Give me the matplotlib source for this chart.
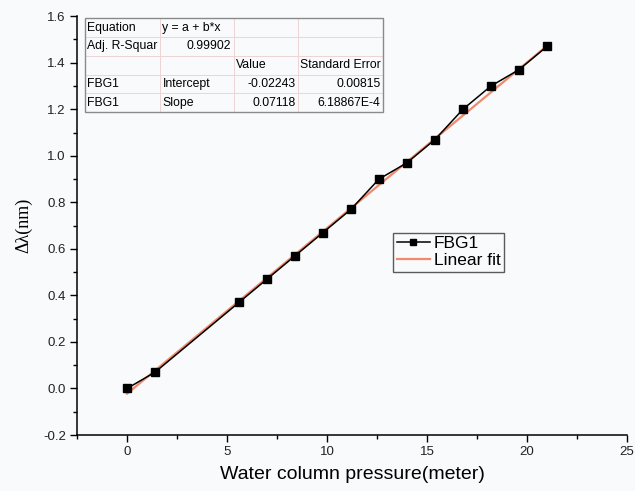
import matplotlib
matplotlib.use("Agg")
import matplotlib.pyplot as plt
import numpy as np
from matplotlib.patches import Rectangle

plt.rcParams["font.family"] = ["Liberation Sans", "DejaVu Sans"]

# 水柱压力 (m) 与 FBG1 波长漂移 (nm)
pressure = [0.0, 1.4, 5.6, 7.0, 8.4, 9.8, 11.2, 12.6, 14.0, 15.4, 16.8, 18.2, 19.6, 21.0]
shift = [0.00, 0.07, 0.37, 0.47, 0.57, 0.67, 0.77, 0.90, 0.97, 1.07, 1.20, 1.30, 1.37, 1.47]

# 线性拟合结果
intercept = -0.02243
slope = 0.07118
intercept_err = "0.00815"
slope_err = "6.18867E-4"
adj_r2 = "0.99902"

x_ticks = [0, 5, 10, 15, 20, 25]
y_ticks = [-0.2, 0.0, 0.2, 0.4, 0.6, 0.8, 1.0, 1.2, 1.4, 1.6]

bg = "#f9fafc"
fig = plt.figure(figsize=(6.35, 4.91), dpi=100, facecolor=bg)
ax = fig.add_axes([0.1213, 0.114, 0.866, 0.853], facecolor=bg)

fit_x = np.array([pressure[0], pressure[-1]])
ax.plot(pressure, shift, color="black", lw=1.1, marker="s", ms=5.8,
        label="FBG1", zorder=3)
ax.plot(fit_x, intercept + slope * fit_x, color="#f08a6c", lw=1.6,
        label="Linear fit", zorder=2)

ax.set_xlim(-2.5, 25)
ax.set_ylim(-0.2, 1.6)
ax.set_xticks(x_ticks)
ax.set_yticks(y_ticks)
ax.set_xticks(np.arange(-2.5, 25.1, 2.5), minor=True)
ax.set_yticks(np.arange(-0.2, 1.61, 0.1), minor=True)
ax.yaxis.set_major_formatter(matplotlib.ticker.FormatStrFormatter("%.1f"))
ax.tick_params(which="major", direction="out", length=5, width=1,
               labelsize=9.5, labelcolor="#222222", pad=3)
ax.tick_params(which="minor", direction="out", length=3, width=1)
for s in ["top", "right"]:
    ax.spines[s].set_visible(False)
for s in ["left", "bottom"]:
    ax.spines[s].set_linewidth(1.1)

ax.set_xlabel("Water column pressure(meter)", fontsize=14, labelpad=6)
ax.set_ylabel("Δλ(nm)", fontsize=13, family=["Liberation Serif", "DejaVu Serif"],
              labelpad=8)

leg = ax.legend(loc="upper left", bbox_to_anchor=(0.575, 0.483), fontsize=12.5,
                frameon=True, fancybox=False, handlelength=1.9,
                handletextpad=0.25, borderpad=0.2, labelspacing=0.1,
                borderaxespad=0, markerscale=0.8)
leg.get_frame().set_edgecolor("#333333")
leg.get_frame().set_linewidth(1.0)
leg.get_frame().set_facecolor(bg)

# 拟合参数表
cells = [
    ["Equation", "y = a + b*x", "", ""],
    ["Adj. R-Squar", adj_r2, "", ""],
    ["", "", "Value", "Standard Error"],
    ["FBG1", "Intercept", f"{intercept:.5f}", intercept_err],
    ["FBG1", "Slope", f"{slope:.5f}", slope_err],
]
col_w = [75, 73, 64, 85]
col_w = [w / sum(col_w) for w in col_w]
tx0, ty0, tw, th = 0.0145, 0.771, 0.542, 0.224
tbl = ax.table(cellText=cells, colWidths=col_w, bbox=[tx0, ty0, tw, th],
               cellLoc="left")
tbl.auto_set_font_size(False)
tbl.set_fontsize(8.8)
right_cells = {(1, 1), (3, 2), (4, 2), (3, 3), (4, 3), (2, 3)}
for (r, c), cell in tbl.get_celld().items():
    cell.set_edgecolor("#ecd2d2")
    cell.set_linewidth(0.6)
    cell.set_facecolor(bg)
    cell.PAD = 0.03
    if (r, c) in right_cells:
        cell.get_text().set_ha("right")
        cell._loc = "right"
ax.add_patch(Rectangle((tx0, ty0), tw, th, transform=ax.transAxes,
                       fill=False, edgecolor="#8a8a8a", lw=1.0, zorder=5))

fig.savefig("out.png", dpi=100, facecolor=bg)
